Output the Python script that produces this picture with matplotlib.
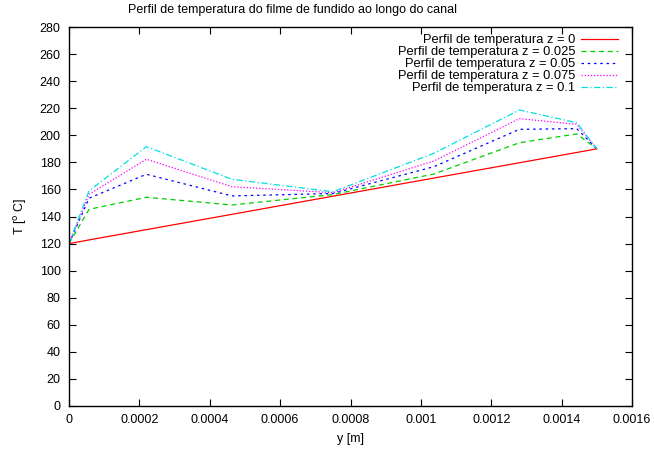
import matplotlib
matplotlib.use("Agg")
import matplotlib.pyplot as plt

y_pos = [0.0, 0.000057, 0.00022, 0.000463, 0.00075, 0.001037, 0.00128, 0.001443, 0.0015]

T_z0 = [120.0, 122.7, 130.3, 141.6, 155.0, 168.4, 179.7, 187.3, 190.0]
T_z0025 = [120.0, 145.3, 154.2, 148.5, 156.2, 171.4, 194.5, 201.0, 190.0]
T_z005 = [120.0, 153.5, 171.2, 155.2, 157.0, 176.8, 204.4, 204.9, 190.0]
T_z0075 = [120.0, 156.4, 182.3, 162.0, 157.6, 181.0, 212.3, 208.1, 190.0]
T_z01 = [120.0, 159.0, 191.6, 167.5, 158.3, 186.7, 218.7, 209.3, 190.0]

labels = ["Perfil de temperatura z = 0", "Perfil de temperatura z = 0.025",
          "Perfil de temperatura z = 0.05", "Perfil de temperatura z = 0.075",
          "Perfil de temperatura z = 0.1"]

xticks = [0, 0.0002, 0.0004, 0.0006, 0.0008, 0.001, 0.0012, 0.0014, 0.0016]
xticklabels = ["0", "0.0002", "0.0004", "0.0006", "0.0008", "0.001", "0.0012", "0.0014", "0.0016"]
yticks = list(range(0, 281, 20))

plt.rcParams['font.family'] = ['Liberation Sans', 'DejaVu Sans']

fig = plt.figure(figsize=(6.54, 4.5), dpi=100)
ax = fig.add_axes([69/654, 1-406/450, (632-69)/654, (406-27)/450])

series = [T_z0, T_z0025, T_z005, T_z0075, T_z01]
colors = ['#ff0000', '#00d000', '#0000ff', '#ff00ff', '#00e0e0']
styles = ['-', (0, (4, 3)), (0, (2, 3)), (0, (1, 1.5)), (0, (5, 2, 1, 2))]
for s, c, ls, lab in zip(series, colors, styles, labels):
    ax.plot(y_pos, s, color=c, linestyle=ls, linewidth=0.9, label=lab)

ax.set_xlim(0, 0.0016)
ax.set_ylim(0, 280)
ax.set_xticks(xticks)
ax.set_xticklabels(xticklabels)
ax.set_yticks(yticks)
ax.tick_params(direction='in', length=5, width=0.8, top=True, right=True,
               labelsize=9, pad=6)
for sp in ax.spines.values():
    sp.set_linewidth(1.0)

ax.set_xlabel("y [m]", fontsize=9, labelpad=5)
ax.set_ylabel(r"T [$^{\mathrm{o}}$ C]", fontsize=9, labelpad=8)

fig.text(292/654, 1-10/450, "Perfil de temperatura do filme de fundido ao longo do canal",
         ha='center', va='center', fontsize=9)

leg = ax.legend(loc='upper right', bbox_to_anchor=(618/654, 1-34/450),
                bbox_transform=fig.transFigure, frameon=False, markerfirst=False,
                fontsize=9.3, handlelength=2.9, labelspacing=0.0, borderaxespad=0,
                borderpad=0, handletextpad=0.4)

fig.savefig("out.png", dpi=100)
